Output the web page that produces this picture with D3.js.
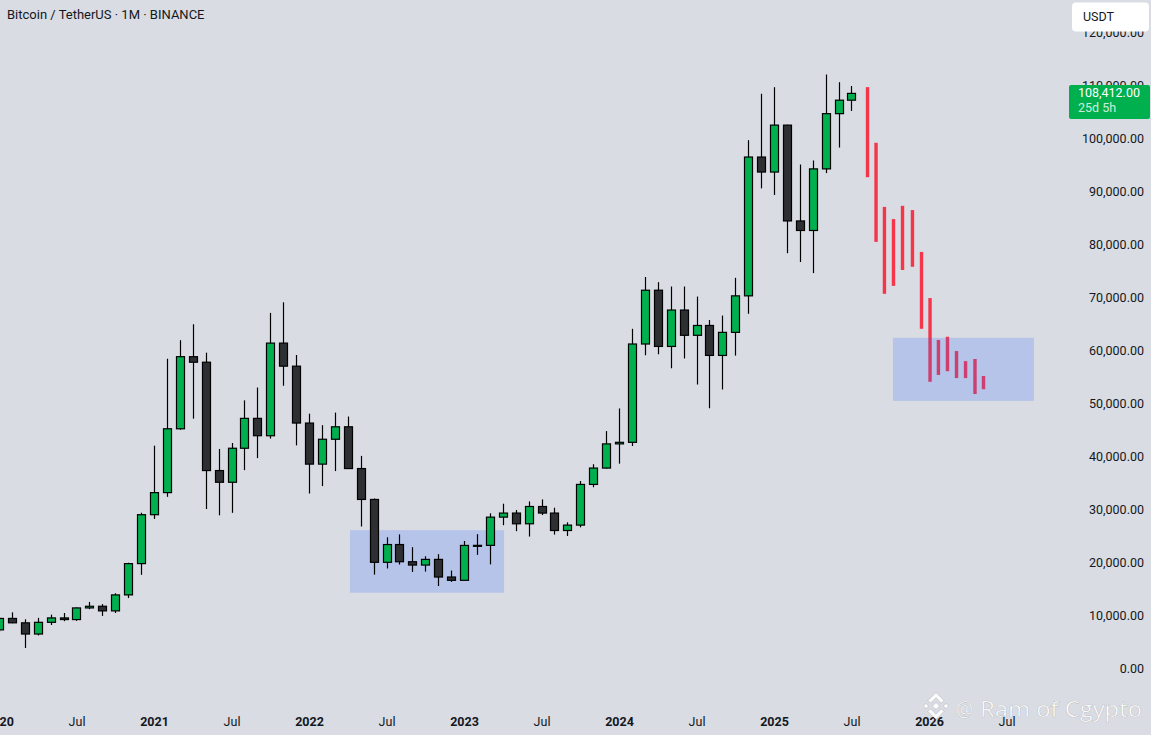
<!DOCTYPE html>
<html><head><meta charset="utf-8">
<script src="https://cdn.jsdelivr.net/npm/d3@7"></script>
<style>html,body{margin:0;padding:0;background:#d9dce3;overflow:hidden}</style>
</head><body><svg id="c" width="1151" height="735"></svg>
<script>
// ---------- DATA ----------
const title = "Bitcoin / TetherUS · 1M · BINANCE";
const months = [
 "2020-01","2020-02","2020-03","2020-04","2020-05","2020-06","2020-07","2020-08","2020-09","2020-10","2020-11","2020-12",
 "2021-01","2021-02","2021-03","2021-04","2021-05","2021-06","2021-07","2021-08","2021-09","2021-10","2021-11","2021-12",
 "2022-01","2022-02","2022-03","2022-04","2022-05","2022-06","2022-07","2022-08","2022-09","2022-10","2022-11","2022-12",
 "2023-01","2023-02","2023-03","2023-04","2023-05","2023-06","2023-07","2023-08","2023-09","2023-10","2023-11","2023-12",
 "2024-01","2024-02","2024-03","2024-04","2024-05","2024-06","2024-07","2024-08","2024-09","2024-10","2024-11","2024-12",
 "2025-01","2025-02","2025-03","2025-04","2025-05","2025-06","2025-07"];
const openP = [
 7195,9352,8524,6412,8620,9448,9139,11335,11650,10777,13791,19696,
 28924,33093,45134,58739,57697,37254,35045,41462,47101,43820,61300,56951,
 46217,38467,43160,45510,37632,31801,19942,23296,20048,19423,20491,17166,
 16542,23125,23142,28465,29233,27210,30472,29232,25941,26963,34640,37724,
 42284,42580,61131,71280,60672,67540,62772,64628,58974,63328,70215,96408,
 93576,102430,84350,82549,94172,104592,107135];
const highP = [
 9578,10500,9188,9467,10067,10380,11444,12468,12051,14100,19863,29300,
 41950,58353,61844,64854,59500,41330,42448,50500,52920,67000,69000,59054,
 47990,45821,48190,47444,40024,31986,24668,25211,22799,21085,21481,18388,
 23961,25250,29185,31000,29820,31432,31804,30244,27484,35280,38450,44700,
 48969,64000,73777,72798,71979,71980,70080,65660,66498,73620,99588,108353,
 109588,102500,95000,95758,111980,110530,109800];
const lowP = [
 6850,8445,3782,6150,8117,8833,8893,11100,9825,10374,13195,17572,
 28130,32296,44950,47044,30000,28805,29278,37333,39600,43283,53257,42000,
 32917,34322,37155,37578,26700,17622,18781,19520,18126,18190,15476,16256,
 16499,21351,19549,26943,25811,24800,28862,25166,24901,26539,34097,37616,
 38555,41884,59005,59192,56553,58402,53486,49000,52550,58946,66835,90500,
 89257,78259,76606,74508,93377,98200,105100];
const closeP = [
 9353,8524,6410,8620,9448,9139,11335,11650,10777,13791,19696,28924,
 33093,45136,58741,57694,37254,35045,41462,47101,43824,61300,56951,46217,
 38467,43160,45510,37631,31801,19942,23293,20050,19423,20491,17164,16542,
 23125,23142,28465,29233,27210,30472,29232,25941,26963,34640,37724,42284,
 42580,61131,71280,60672,67540,62772,64628,58974,63328,70215,96408,93576,
 102430,84350,82549,94172,104592,107135,108412];

// projected (drawn) bars: position in months since Jan 2020, high, low
const projPos  = [67.24,67.9,68.55,69.25,69.95,70.72,71.42,72.08,72.73,73.43,74.13,74.83,75.56,76.22];
const projHigh = [109600,99100,87000,84700,87200,86400,78500,69800,61900,62500,59800,57900,58300,55100];
const projLow  = [92600,80400,70600,72100,75100,75700,64000,54000,55300,56000,54700,54700,51700,52600];

// highlighted zones: [start month pos, end month pos, top price, bottom price]
const zoneStart = [27.17, 69.21];
const zoneEnd   = [39.1, 80.13];
const zoneTop   = [26000, 62300];
const zoneBot   = [14200, 50400];

const xTickPos    = [0,6,12,18,24,30,36,42,48,54,60,66,72,78];
const xTickLabels = ["2020","Jul","2021","Jul","2022","Jul","2023","Jul","2024","Jul","2025","Jul","2026","Jul"];
const yTicks = [0,10000,20000,30000,40000,50000,60000,70000,80000,90000,100000,110000,120000];

const lastPrice = 108412;
const lastLabel = "108,412.00";
const countdown = "25d 5h";
const currency = "USDT";
const watermarkAt = "@";
const watermark = "Ram of Cgypto";

// ---------- CHART ----------
const W = 1151, H = 735;
const svg = d3.select("#c");
const FONT = "Roboto, 'Noto Sans', sans-serif";
const TXT = "#131722";
const UP = "#00b04f", DOWN = "#2e2f33";

svg.append("rect").attr("width", W).attr("height", H).attr("fill", "#d9dce3");

const x = d3.scaleLinear().domain([0, 72]).range([-1, 929]);
const y = d3.scaleLinear().domain([0, 120000]).range([668, 32]);
const step = x(1) - x(0);
const bw = step * 0.62;

const candles = months.map((m, i) => ({m, i, o: openP[i], h: highP[i], l: lowP[i], c: closeP[i]}));
const zones = zoneStart.map((s, i) => ({s, e: zoneEnd[i], t: zoneTop[i], b: zoneBot[i]}));
const proj = projPos.map((p, i) => ({p, h: projHigh[i], l: projLow[i]}));
const zoneFill = "rgba(41,98,255,0.2)";

// zone under candles
svg.append("g").selectAll("rect").data([zones[0]]).join("rect")
  .attr("x", d => x(d.s)).attr("y", d => y(d.t))
  .attr("width", d => x(d.e) - x(d.s)).attr("height", d => y(d.b) - y(d.t))
  .attr("fill", zoneFill);

// candles
const cg = svg.append("g");
cg.selectAll("line").data(candles).join("line")
  .attr("x1", d => Math.round(x(d.i)) + 0.5).attr("x2", d => Math.round(x(d.i)) + 0.5)
  .attr("y1", d => y(d.h)).attr("y2", d => y(d.l))
  .attr("stroke", "#000").attr("stroke-width", 1.2);
cg.selectAll("rect").data(candles).join("rect")
  .attr("x", d => Math.round(x(d.i)) + 0.5 - bw / 2)
  .attr("y", d => y(Math.max(d.o, d.c)))
  .attr("width", bw)
  .attr("height", d => Math.max(1, Math.abs(y(d.o) - y(d.c))))
  .attr("fill", d => d.c >= d.o ? UP : DOWN)
  .attr("stroke", "#000").attr("stroke-width", 1.2);

// projected red bars
svg.append("g").selectAll("rect").data(proj).join("rect")
  .attr("x", d => x(d.p) - 1.7).attr("y", d => y(d.h))
  .attr("width", 3.4).attr("height", d => y(d.l) - y(d.h))
  .attr("fill", "#f5364a");

// zone over projected bars
svg.append("g").selectAll("rect").data([zones[1]]).join("rect")
  .attr("x", d => x(d.s)).attr("y", d => y(d.t))
  .attr("width", d => x(d.e) - x(d.s)).attr("height", d => y(d.b) - y(d.t))
  .attr("fill", zoneFill);

// bottom axis
const xAxis = d3.axisBottom(x).tickValues(xTickPos).tickFormat((d, i) => xTickLabels[i]).tickSize(0).tickPadding(0);
const xg = svg.append("g").attr("transform", "translate(0,717)").call(xAxis);
xg.select(".domain").remove();
xg.selectAll("text")
  .attr("font-family", FONT).attr("font-size", 12.5).attr("fill", TXT)
  .attr("dy", "0.71em")
  .attr("font-weight", (d, i) => xTickLabels[i] === "Jul" ? 400 : 700);

// right axis
const yAxis = d3.axisRight(y).tickValues(yTicks).tickFormat(d3.format(",.2f")).tickSize(0).tickPadding(0);
const yg = svg.append("g").attr("transform", "translate(1144,0)").call(yAxis);
yg.select(".domain").remove();
yg.selectAll("text")
  .attr("font-family", FONT).attr("font-size", 12.5).attr("fill", TXT)
  .attr("text-anchor", "end").attr("x", 0);

// USDT box
svg.append("rect").attr("x", 1072).attr("y", 2.5).attr("width", 77).attr("height", 29)
  .attr("rx", 4).attr("fill", "#ffffff");
svg.append("text").attr("x", 1083).attr("y", 21).text(currency)
  .attr("font-family", FONT).attr("font-size", 12.5).attr("fill", TXT);

// last price label
const ly = y(lastPrice);
svg.append("rect").attr("x", 1069).attr("y", ly - 8.5).attr("width", 81).attr("height", 34)
  .attr("rx", 2).attr("fill", "#00b04f");
svg.append("text").attr("x", 1078).attr("y", ly + 0.5).text(lastLabel)
  .attr("font-family", FONT).attr("font-size", 12.5).attr("fill", "#ffffff").attr("dominant-baseline", "middle");
svg.append("text").attr("x", 1078).attr("y", ly + 15).text(countdown)
  .attr("font-family", FONT).attr("font-size", 12.5).attr("fill", "rgba(255,255,255,0.8)").attr("dominant-baseline", "middle");

// title
svg.append("text").attr("x", 7).attr("y", 19).text(title)
  .attr("font-family", FONT).attr("font-size", 13).attr("fill", TXT);

// watermark (Binance-style logo + text)
const wm = svg.append("g").attr("transform", "translate(936,706)")
  .attr("fill", "#ffffff").attr("stroke", "rgba(0,0,0,0.18)").attr("stroke-width", 0.7).attr("opacity", 0.92);
wm.append("path").attr("d", "M0,-3.6 L3.6,0 L0,3.6 L-3.6,0 Z");
wm.append("path").attr("d", "M-10,-2.6 L-7.4,0 L-10,2.6 L-12.6,0 Z");
wm.append("path").attr("d", "M10,-2.6 L12.6,0 L10,2.6 L7.4,0 Z");
wm.append("path").attr("d", "M-8,-5.5 L0,-13.5 L8,-5.5 L5.4,-2.9 L0,-8.3 L-5.4,-2.9 Z");
wm.append("path").attr("d", "M-8,5.5 L0,13.5 L8,5.5 L5.4,2.9 L0,8.3 L-5.4,2.9 Z");
const wmStyle = sel => sel.attr("font-family", "'Open Sans', Roboto, sans-serif").attr("font-size", 21)
  .attr("fill", "#ffffff").attr("stroke", "rgba(0,0,0,0.2)").attr("stroke-width", 0.6).attr("opacity", 0.95);
svg.append("text").attr("x", 956).attr("y", 717).text(watermarkAt).call(wmStyle)
  .attr("textLength", 17).attr("lengthAdjust", "spacingAndGlyphs");
svg.append("text").attr("x", 980).attr("y", 717).text(watermark).call(wmStyle)
  .attr("textLength", 162).attr("lengthAdjust", "spacingAndGlyphs");
</script></body></html>
